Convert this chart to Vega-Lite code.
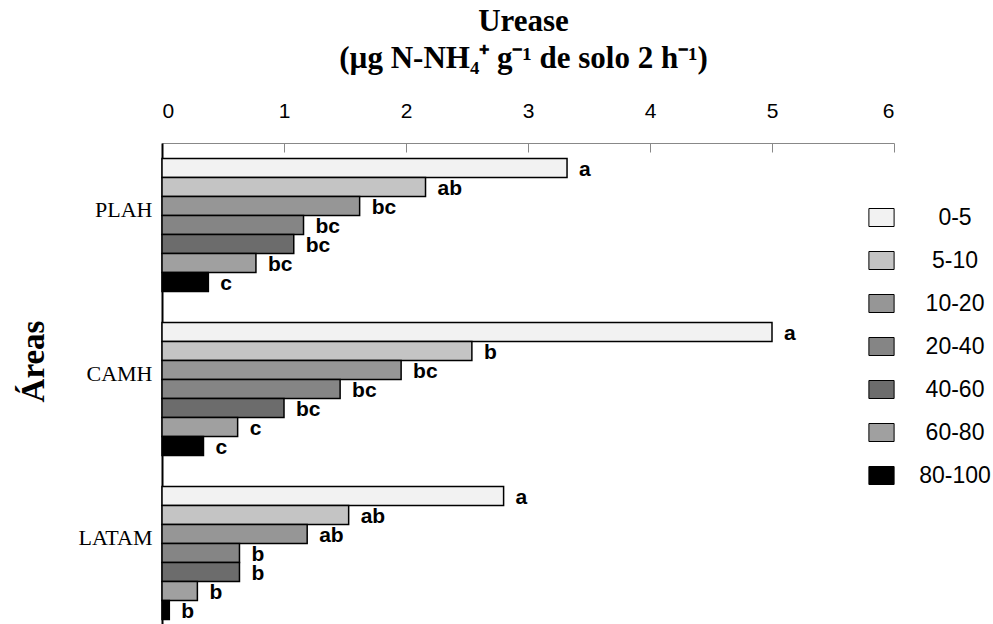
{
  "$schema": "https://vega.github.io/schema/vega-lite/v6.json",
  "width": 732,
  "height": 492,
  "autosize": "none",
  "padding": {"left": 162, "top": 143, "right": 99, "bottom": 0},
  "background": "white",
  "config": {"view": {"stroke": null}, "font": "Liberation Sans"},
  "data": {
    "values": [
      {"area": "PLAH", "depth": "0-5", "value": 3.32, "letter": "a"},
      {"area": "PLAH", "depth": "5-10", "value": 2.16, "letter": "ab"},
      {"area": "PLAH", "depth": "10-20", "value": 1.62, "letter": "bc"},
      {"area": "PLAH", "depth": "20-40", "value": 1.16, "letter": "bc"},
      {"area": "PLAH", "depth": "40-60", "value": 1.08, "letter": "bc"},
      {"area": "PLAH", "depth": "60-80", "value": 0.77, "letter": "bc"},
      {"area": "PLAH", "depth": "80-100", "value": 0.38, "letter": "c"},
      {"area": "CAMH", "depth": "0-5", "value": 5.0, "letter": "a"},
      {"area": "CAMH", "depth": "5-10", "value": 2.54, "letter": "b"},
      {"area": "CAMH", "depth": "10-20", "value": 1.96, "letter": "bc"},
      {"area": "CAMH", "depth": "20-40", "value": 1.46, "letter": "bc"},
      {"area": "CAMH", "depth": "40-60", "value": 1.0, "letter": "bc"},
      {"area": "CAMH", "depth": "60-80", "value": 0.62, "letter": "c"},
      {"area": "CAMH", "depth": "80-100", "value": 0.34, "letter": "c"},
      {"area": "LATAM", "depth": "0-5", "value": 2.8, "letter": "a"},
      {"area": "LATAM", "depth": "5-10", "value": 1.53, "letter": "ab"},
      {"area": "LATAM", "depth": "10-20", "value": 1.19, "letter": "ab"},
      {"area": "LATAM", "depth": "20-40", "value": 0.635, "letter": "b"},
      {"area": "LATAM", "depth": "40-60", "value": 0.635, "letter": "b"},
      {"area": "LATAM", "depth": "60-80", "value": 0.29, "letter": "b"},
      {"area": "LATAM", "depth": "80-100", "value": 0.06, "letter": "b"}
    ]
  },
  "encoding": {
    "y": {
      "field": "area",
      "type": "nominal",
      "sort": ["PLAH", "CAMH", "LATAM"],
      "scale": {"paddingInner": 0.19, "paddingOuter": 0.095},
      "axis": {
        "domainColor": "black",
        "domainWidth": 2,
        "ticks": false,
        "labelFont": "Liberation Serif",
        "labelFontSize": 22,
        "labelColor": "black",
        "labelPadding": 10,
        "labelOffset": -15,
        "title": "Áreas",
        "titleFont": "Liberation Serif",
        "titleFontSize": 33,
        "titleFontWeight": "bold",
        "titleColor": "black",
        "titleX": -129,
        "titleY": 218,
        "titleAngle": -90,
        "titleAlign": "center",
        "titleBaseline": "middle"
      }
    },
    "yOffset": {
      "field": "depth",
      "type": "nominal",
      "sort": ["0-5", "5-10", "10-20", "20-40", "40-60", "60-80", "80-100"]
    }
  },
  "layer": [
    {
      "mark": {"type": "bar", "stroke": "black", "strokeWidth": 1.5},
      "encoding": {
        "x": {
          "field": "value",
          "type": "quantitative",
          "scale": {"domain": [0, 6], "nice": false},
          "axis": {
            "orient": "top",
            "values": [0, 1, 2, 3, 4, 5, 6],
            "format": "d",
            "grid": false,
            "domainColor": "#888888",
            "tickColor": "#888888",
            "tickSize": -9,
            "labelFont": "Liberation Sans",
            "labelFontSize": 21,
            "labelColor": "black",
            "labelPadding": 31,
            "title": ["Urease", "(µg N-NH₄⁺ g⁻¹ de solo 2 h⁻¹)"],
            "titleFont": "Liberation Serif",
            "titleFontSize": 31,
            "titleFontWeight": "bold",
            "titleColor": "black",
            "titleLineHeight": 37,
            "titleBaseline": "top",
            "titleAlign": "center",
            "titleX": 361,
            "titleY": -137
          }
        },
        "fill": {
          "field": "depth",
          "type": "nominal",
          "sort": ["0-5", "5-10", "10-20", "20-40", "40-60", "60-80", "80-100"],
          "scale": {
            "domain": ["0-5", "5-10", "10-20", "20-40", "40-60", "60-80", "80-100"],
            "range": ["#f2f2f2", "#c4c4c4", "#969696", "#858585", "#6c6c6c", "#a0a0a0", "#000000"]
          },
          "legend": {
            "orient": "none",
            "legendX": 708,
            "legendY": 63,
            "title": null,
            "symbolType": "M-1.4,-1H1.4V1H-1.4Z",
            "symbolSize": 324,
            "symbolStrokeColor": "black",
            "symbolStrokeWidth": 1,
            "labelFont": "Liberation Sans",
            "labelFontSize": 23,
            "labelColor": "black",
            "labelAlign": "center",
            "labelOffset": 62,
            "labelBaseline": "middle",
            "rowPadding": 19
          }
        }
      }
    },
    {
      "mark": {
        "type": "text",
        "align": "left",
        "baseline": "middle",
        "dx": 12,
        "dy": 2,
        "fontWeight": "bold",
        "fontSize": 21,
        "font": "Liberation Sans",
        "color": "black"
      },
      "encoding": {
        "x": {"field": "value", "type": "quantitative"},
        "text": {"field": "letter"}
      }
    }
  ]
}
